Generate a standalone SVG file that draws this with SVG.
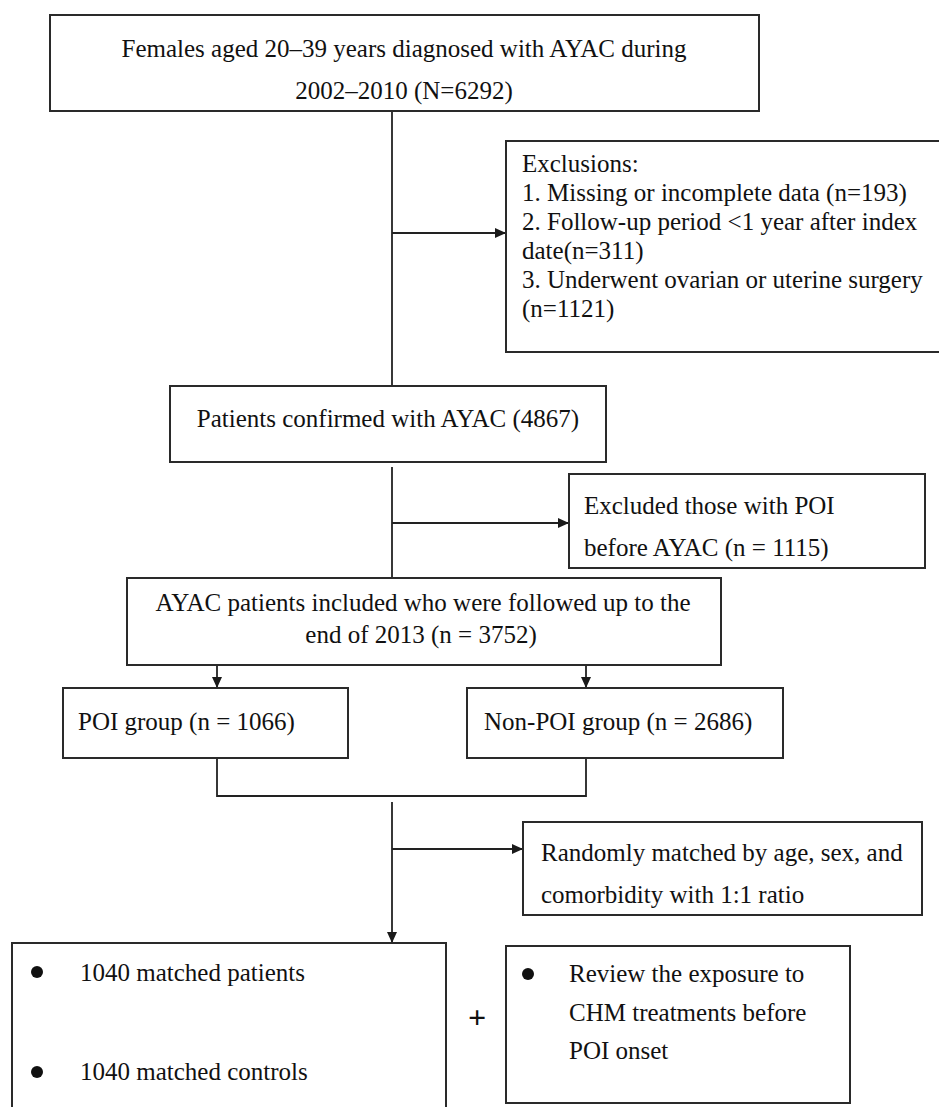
<svg xmlns="http://www.w3.org/2000/svg" width="939" height="1107" viewBox="0 0 939 1107">
<defs>
<marker id="ah" markerUnits="userSpaceOnUse" markerWidth="11" markerHeight="10" refX="11" refY="5" orient="auto">
<path d="M0,0 L11,5 L0,10 z" fill="#1a1a1a"/>
</marker>
<style>
.box{fill:#fff;stroke:#2a2a2a;stroke-width:2}
.t{font-size:25px;fill:#111}
.c{text-anchor:middle}
.ln{fill:none;stroke:#222;stroke-width:1.8}
.bul{fill:#111}
</style>
</defs>
<rect width="939" height="1107" fill="#fff"/>
<g id="connectors">
<line class="ln" x1="392" y1="111" x2="392" y2="386"/>
<line class="ln" x1="392" y1="233" x2="506" y2="233" marker-end="url(#ah)"/>
<line class="ln" x1="392" y1="467" x2="392" y2="578"/>
<line class="ln" x1="392" y1="523" x2="569" y2="523" marker-end="url(#ah)"/>
<line class="ln" x1="217" y1="665" x2="217" y2="688" marker-end="url(#ah)"/>
<line class="ln" x1="586" y1="665" x2="586" y2="688" marker-end="url(#ah)"/>
<polyline class="ln" points="217,758 217,796 586,796 586,758"/>
<line class="ln" x1="392" y1="802" x2="392" y2="943" marker-end="url(#ah)"/>
<line class="ln" x1="392" y1="849" x2="523" y2="849" marker-end="url(#ah)"/>
</g>
<g font-family="Liberation Serif, Times New Roman, DejaVu Serif, serif">
<g id="n1">
<rect class="box" x="50" y="15" width="709" height="96"/>
<text class="t c" x="404" y="57">Females aged 20–39 years diagnosed with AYAC during</text>
<text class="t c" x="404" y="99">2002–2010 (N=6292)</text>
</g>
<g id="n2">
<rect class="box" x="506" y="141" width="450" height="211"/>
<text class="t" x="522" y="172">Exclusions:</text>
<text class="t" x="522" y="201">1. Missing or incomplete data (n=193)</text>
<text class="t" x="522" y="230">2. Follow-up period &lt;1 year after index</text>
<text class="t" x="522" y="259">date(n=311)</text>
<text class="t" x="522" y="288">3. Underwent ovarian or uterine surgery</text>
<text class="t" x="522" y="317">(n=1121)</text>
</g>
<g id="n3">
<rect class="box" x="170" y="386" width="436" height="76"/>
<text class="t c" x="388" y="427">Patients confirmed with AYAC (4867)</text>
</g>
<g id="n4">
<rect class="box" x="569" y="474" width="356" height="94"/>
<text class="t" x="584" y="514">Excluded those with POI</text>
<text class="t" x="584" y="556">before AYAC (n = 1115)</text>
</g>
<g id="n5">
<rect class="box" x="127" y="578" width="594" height="87"/>
<text class="t c" x="423" y="611">AYAC patients included who were followed up to the</text>
<text class="t c" x="421" y="643">end of 2013 (n = 3752)</text>
</g>
<g id="n6">
<rect class="box" x="63" y="688" width="285" height="70"/>
<text class="t" x="78" y="730">POI group (n = 1066)</text>
</g>
<g id="n7">
<rect class="box" x="467" y="688" width="316" height="70"/>
<text class="t" x="484" y="730">Non-POI group (n = 2686)</text>
</g>
<g id="n8">
<rect class="box" x="523" y="822" width="399" height="93"/>
<text class="t" x="541" y="861">Randomly matched by age, sex, and</text>
<text class="t" x="541" y="903">comorbidity with 1:1 ratio</text>
</g>
<g id="n9">
<rect class="box" x="12" y="943" width="434" height="180"/>
<circle class="bul" cx="37" cy="972" r="6"/>
<text class="t" x="80" y="981">1040 matched patients</text>
<circle class="bul" cx="37" cy="1072" r="6"/>
<text class="t" x="80" y="1080">1040 matched controls</text>
</g>
<g id="plus">
<text class="c" x="477" y="1028" font-size="32" font-weight="bold" fill="#111">+</text>
</g>
<g id="n10">
<rect class="box" x="506" y="946" width="344" height="157"/>
<circle class="bul" cx="528" cy="974" r="6"/>
<text class="t" x="569" y="982">Review the exposure to</text>
<text class="t" x="569" y="1021">CHM treatments before</text>
<text class="t" x="569" y="1059">POI onset</text>
</g>
</g>
</svg>
